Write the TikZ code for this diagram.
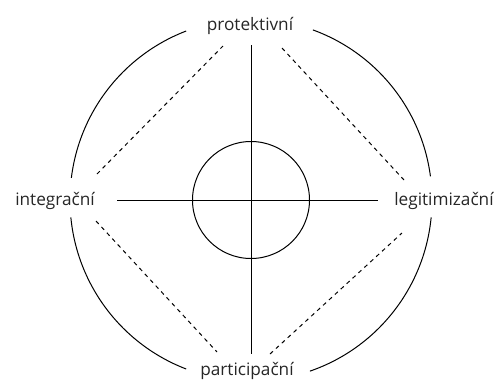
\documentclass[tikz,border=0pt]{standalone}
\usepackage{fontspec}
\setmainfont{Open Sans}
\begin{document}
\begin{tikzpicture}[x=1pt,y=-1pt,
  lbl/.style={anchor=base,inner sep=0pt,font=\fontsize{17.2}{19}\selectfont,text=black!85},
  ln/.style={line width=1pt,black},
  dsh/.style={line width=1pt,black,dash pattern=on 4pt off 4pt}]
\useasboundingbox (0,0) rectangle (499,383);
\coordinate (c) at (251,200);
% labels
\node[lbl] (top) at (250,30) {protektivní};
\node[lbl] (left) at (55,205) {integrační};
\node[lbl] (right) at (444,205) {legitimizační};
\node[lbl] (bot) at (247,375) {participační};
% outer circle arcs
\draw[ln] (c) ++(-70:181) arc[start angle=-70,end angle=-7.5,radius=181];
\draw[ln] (c) ++(5.5:181) arc[start angle=5.5,end angle=71,radius=181];
\draw[ln] (c) ++(111:181) arc[start angle=111,end angle=174.5,radius=181];
\draw[ln] (c) ++(187:181) arc[start angle=187,end angle=249,radius=181];
% inner circle
\node[draw,line width=1pt,circle,minimum size=117pt,inner sep=0pt] (inner) at (c) {};
% axes
\coordinate (vt) at (251,45);
\coordinate (vb) at (251,354);
\coordinate (hl) at (117,200);
\coordinate (hr) at (378,200);
\draw[ln] (vt) -- (vb);
\draw[ln] (hl) -- (hr);
% dashed
\coordinate (d1a) at (97,174);  \coordinate (d1b) at (223,46);
\coordinate (d2a) at (282,48);  \coordinate (d2b) at (404,180);
\coordinate (d3a) at (96,221);  \coordinate (d3b) at (217,352);
\coordinate (d4a) at (270,354); \coordinate (d4b) at (402,233);
\draw[dsh] (d1a) -- (d1b);
\draw[dsh] (d2a) -- (d2b);
\draw[dsh] (d3a) -- (d3b);
\draw[dsh] (d4a) -- (d4b);
\end{tikzpicture}
\end{document}
